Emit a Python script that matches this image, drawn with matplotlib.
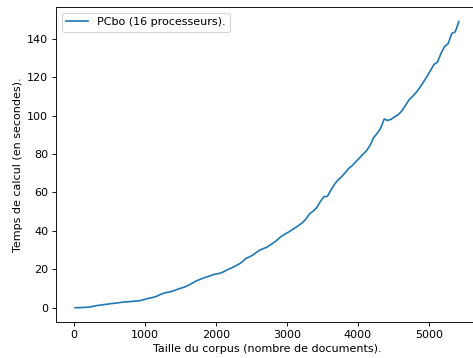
import matplotlib
matplotlib.use("Agg")
import matplotlib.pyplot as plt

# taille du corpus (documents) et temps de calcul (s)
sizes = [20, 70, 120, 170, 220, 270, 320, 370, 420, 470,
         520, 570, 620, 670, 720, 770, 820, 870, 920, 970,
         1020, 1070, 1120, 1170, 1220, 1270, 1320, 1370, 1420, 1470,
         1520, 1570, 1620, 1670, 1720, 1770, 1820, 1870, 1920, 1970,
         2020, 2070, 2120, 2170, 2220, 2270, 2320, 2370, 2420, 2470,
         2520, 2570, 2620, 2670, 2720, 2770, 2820, 2870, 2920, 2970,
         3020, 3070, 3120, 3170, 3220, 3270, 3320, 3370, 3420, 3470,
         3520, 3570, 3620, 3670, 3720, 3770, 3820, 3870, 3920, 3970,
         4020, 4070, 4120, 4170, 4220, 4270, 4320, 4370, 4420, 4470,
         4520, 4570, 4620, 4670, 4720, 4770, 4820, 4870, 4920, 4970,
         5020, 5070, 5120, 5170, 5220, 5270, 5320, 5370, 5420]
times = [0.0, 0.0, 0.1, 0.2, 0.3, 0.7, 1.1, 1.3, 1.6, 1.8,
         2.1, 2.3, 2.5, 2.8, 3.0, 3.1, 3.3, 3.4, 3.6, 4.0,
         4.6, 5.0, 5.4, 6.0, 6.9, 7.6, 8.0, 8.4, 9.0, 9.7,
         10.3, 10.9, 11.8, 12.8, 13.9, 14.6, 15.4, 16.0, 16.6, 17.3,
         17.6, 18.1, 18.9, 19.9, 20.7, 21.6, 22.6, 23.8, 25.6, 26.4,
         27.4, 28.8, 30.0, 30.8, 31.5, 32.8, 34.0, 35.5, 37.1, 38.3,
         39.3, 40.5, 41.7, 43.0, 44.3, 46.3, 48.9, 50.3, 52.1, 55.2,
         57.8, 58.0, 61.3, 64.2, 66.6, 68.2, 70.3, 72.5, 74.0, 76.0,
         77.9, 79.9, 81.7, 84.5, 88.5, 90.8, 93.5, 98.3, 97.5, 98.2,
         99.5, 100.6, 102.6, 105.4, 108.3, 110.1, 112.1, 114.6, 117.4, 120.3,
         123.5, 126.7, 127.9, 132.5, 136.1, 137.5, 142.8, 143.7, 149.0]

fig = plt.figure(figsize=(473 / 80, 358 / 80), dpi=80)
ax = fig.add_axes([56 / 473, 36 / 358, 422 / 473, 314.7 / 358])
ax.plot(sizes, times, label="PCbo (16 processeurs).")
ax.set_xlabel("Taille du corpus (nombre de documents).")
ax.set_ylabel("Temps de calcul (en secondes).")
ax.legend(loc="upper left")
fig.savefig("out.png", dpi=80)
